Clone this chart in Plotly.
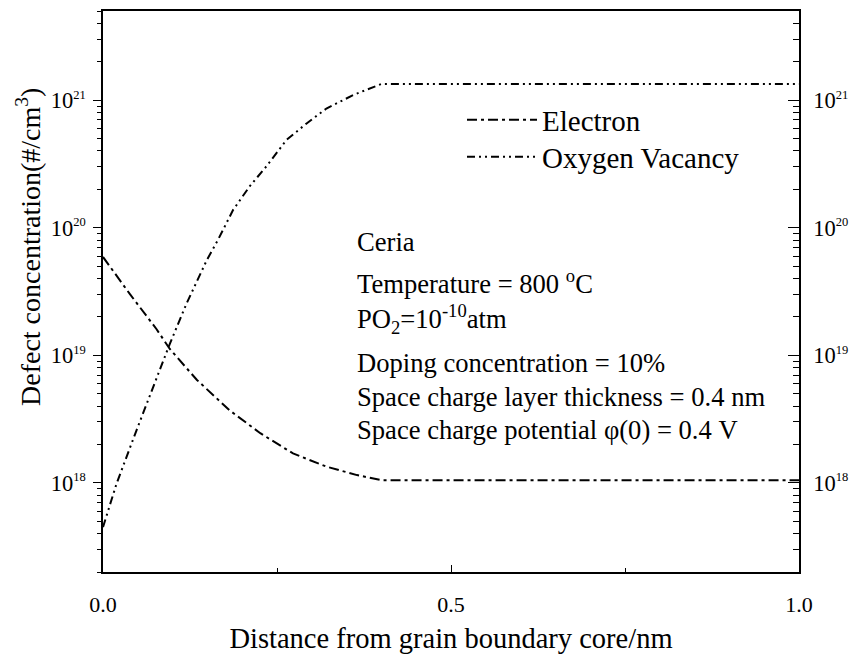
import plotly.graph_objects as go
import math

# ---- data ----
electron_x = [0.0, 0.039, 0.077, 0.096, 0.135, 0.182, 0.226, 0.273, 0.321, 0.365, 0.40, 1.0]
electron_y = [5.9e19, 3.0e19, 1.6e19, 1.12e19, 6.4e18, 3.7e18, 2.45e18, 1.7e18, 1.34e18, 1.15e18, 1.05e18, 1.05e18]

vacancy_x = [0.0, 0.0196, 0.048, 0.077, 0.096, 0.12, 0.149, 0.166, 0.187, 0.211, 0.235, 0.264,
             0.293, 0.321, 0.36, 0.40, 1.0]
vacancy_y = [4.5e17, 9.9e17, 2.57e18, 6.76e18, 1.23e19, 2.54e19, 5.55e19, 8.2e19, 1.38e20, 2.12e20,
             3.04e20, 4.9e20, 6.6e20, 8.6e20, 1.1e21, 1.34e21, 1.34e21]

x_tickvals = [0.0, 0.5, 1.0]
x_ticktext = ["0.0", "0.5", "1.0"]
x_minorvals = [0.25, 0.75]

y_decades = [1e18, 1e19, 1e20, 1e21]
y_exponents = ["18", "19", "20", "21"]
y_min, y_max = 2e17, 5e21
y_minorvals = [float(m) * 10.0 ** e for e in range(17, 22) for m in range(2, 10)
               if y_min <= float(m) * 10.0 ** e <= y_max * 1.0001]

info_lines = [
    "Ceria",
    "Temperature = 800 <sup>o</sup>C",
    "PO<sub>2</sub>=10<sup>-10</sup>atm",
    "Doping concentration = 10%",
    "Space charge layer thickness = 0.4 nm",
    "Space charge potential φ(0) = 0.4 V",
]

FONT = "Liberation Serif"
y_ticktext = ["10<sup><span style='font-size:12.5px'>%s</span></sup>" % e for e in y_exponents]

# page geometry
PL, PR, PT, PB = 103, 799, 11, 572
PW, PH = PR - PL, PB - PT


def px_x(x):
    return (x - PL) / PW


def px_y(y):
    return (PB - y) / PH


fig = go.Figure()
fig.add_trace(go.Scatter(x=electron_x, y=electron_y, mode="lines", name="Electron", legend="legend",
                         line=dict(color="black", width=2, dash="10px,4px,3px,4px")))
fig.add_trace(go.Scatter(x=vacancy_x, y=vacancy_y, mode="lines", name="Oxygen Vacancy", legend="legend2",
                         line=dict(color="black", width=2, dash="8px,4px,2px,4px,2px,4px")))

yr = [math.log10(y_min), math.log10(y_max)]

legend_common = dict(xanchor="left", yanchor="middle", itemwidth=70,
                     font=dict(family=FONT, size=29, color="black"), bgcolor="rgba(0,0,0,0)")

fig.update_layout(
    width=850, height=658, autosize=False,
    margin=dict(l=PL, r=850 - PR, t=PT, b=658 - PB, autoexpand=False),
    paper_bgcolor="white", plot_bgcolor="white",
    font=dict(family=FONT, color="black", size=22),
    showlegend=True,
    legend=dict(x=px_x(462), y=px_y(120), **legend_common),
    legend2=dict(x=px_x(462), y=px_y(157), **legend_common),
    xaxis=dict(range=[0, 1], tickmode="array", tickvals=x_tickvals, ticktext=x_ticktext,
               ticks="inside", ticklen=7, tickwidth=1.3, tickcolor="black",
               minor=dict(tickmode="array", tickvals=x_minorvals, ticks="inside", ticklen=4,
                          tickwidth=1.3, tickcolor="black"),
               showline=True, linecolor="black", linewidth=1.5, mirror=True,
               showgrid=False, zeroline=False, ticklabelstandoff=12, automargin=False,
               tickfont=dict(size=22),
               title=dict(text="Distance from grain boundary core/nm", font=dict(size=28.5), standoff=12)),
    yaxis=dict(type="log", range=yr, tickmode="array", tickvals=y_decades, ticktext=y_ticktext,
               ticks="outside", ticklen=8, tickwidth=1.3, tickcolor="black",
               minor=dict(tickmode="array", tickvals=y_minorvals, ticks="outside", ticklen=4,
                          tickwidth=1.3, tickcolor="black"),
               showline=True, linecolor="black", linewidth=1.5, mirror=False, automargin=False,
               showgrid=False, zeroline=False, tickfont=dict(size=22.5), ticklabelstandoff=3),
    yaxis2=dict(type="log", range=yr, overlaying="y", side="right", tickmode="array",
                tickvals=y_decades, ticktext=y_ticktext,
                ticks="inside", ticklen=11, tickwidth=1.3, tickcolor="black",
                minor=dict(tickmode="array", tickvals=y_minorvals, ticks="inside", ticklen=6,
                           tickwidth=1.3, tickcolor="black"),
                showline=True, linecolor="black", linewidth=1.5, automargin=False,
                showgrid=False, zeroline=False, tickfont=dict(size=22.5), ticklabelstandoff=8),
)

# invisible anchor trace so the right axis is drawn
fig.add_trace(go.Scatter(x=[None], y=[None], yaxis="y2", showlegend=False, hoverinfo="skip"))

# y-axis title as rotated text
fig.add_annotation(text="Defect concentration(#/cm<sup>3</sup>)", textangle=-90,
                   xref="paper", yref="paper", x=0, y=px_y(247), xshift=28 - PL,
                   xanchor="center", yanchor="middle",
                   showarrow=False, font=dict(family=FONT, size=28, color="black"))

info_y = [242, 282, 319, 363, 397, 430]
for txt, ypx in zip(info_lines, info_y):
    fig.add_annotation(text=txt, xref="paper", yref="paper",
                       x=px_x(355), y=px_y(ypx), xanchor="left", yanchor="middle",
                       showarrow=False, font=dict(family=FONT, size=26.6, color="black"))

fig.write_html("out.html", config={"displayModeBar": False, "responsive": False},
               post_script="document.body.style.margin='0';document.body.style.overflow='hidden';")
